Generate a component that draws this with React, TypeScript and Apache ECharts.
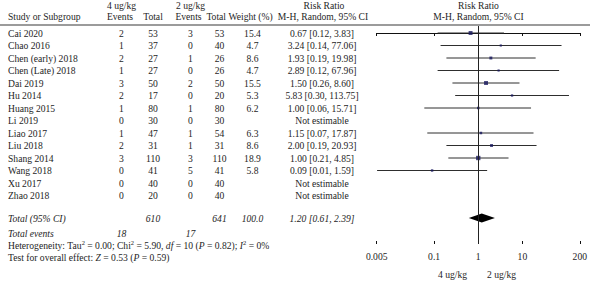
import { useEffect, useRef } from 'react';
import * as echarts from 'echarts';

// ---------- data ----------
const studies = ['Cai 2020', 'Chao 2016', 'Chen (early) 2018', 'Chen (Late) 2018', 'Dai 2019', 'Hu 2014', 'Huang 2015', 'Li 2019', 'Liao 2017', 'Liu 2018', 'Shang 2014', 'Wang 2018', 'Xu 2017', 'Zhao 2018'];
const events4 = [2, 1, 2, 1, 3, 2, 1, 0, 1, 2, 3, 0, 0, 0];
const total4 = [53, 37, 27, 27, 50, 17, 80, 30, 47, 31, 110, 41, 40, 20];
const events2 = [3, 0, 1, 0, 2, 0, 1, 0, 1, 1, 3, 5, 0, 0];
const total2 = [53, 40, 26, 26, 50, 20, 80, 30, 54, 31, 110, 41, 40, 40];
const weights: (number | null)[] = [15.4, 4.7, 8.6, 4.7, 15.5, 5.3, 6.2, null, 6.3, 8.6, 18.9, 5.8, null, null];
const rr: (number | null)[] = [0.67, 3.24, 1.93, 2.89, 1.5, 5.83, 1.0, null, 1.15, 2.0, 1.0, 0.09, null, null];
const ciLow: (number | null)[] = [0.12, 0.14, 0.19, 0.12, 0.26, 0.3, 0.06, null, 0.07, 0.19, 0.21, 0.0051, null, null];
const ciHigh: (number | null)[] = [3.83, 77.06, 19.98, 67.96, 8.6, 113.75, 15.71, null, 17.87, 20.93, 4.85, 1.59, null, null];

const totalN4 = 610;
const totalN2 = 641;
const totalEvents4 = 18;
const totalEvents2 = 17;
const totalWeight = 100.0;
const pooled = [1.2, 0.61, 2.39];

const tickValues = [0.005, 0.1, 1, 10, 200];
const tickLabels = ['0.005', '0.1', '1', '10', '200'];

const hetText = ['Heterogeneity: Tau', '2', ' = 0.00; Chi', '2', ' = 5.90, ', 'df', ' = 10 (', 'P', ' = 0.82); ', 'I', '2', ' = 0%'];
const hetStyles = ['n', 's', 'n', 's', 'n', 'i', 'n', 'i', 'n', 'i', 's', 'n'];
const testText = ['Test for overall effect: ', 'Z', ' = 0.53 (', 'P', ' = 0.59)'];
const testStyles = ['n', 'i', 'n', 'i', 'n'];

// ---------- layout ----------
const W = 590;
const H = 282;
const FONT = '"Liberation Serif", "DejaVu Serif", "Times New Roman", serif';
const FS = 9.6;
const TXT = '#1e1e1e';
const ROW0 = 33;
const STEP = 12.5;
const GRID_TOP = 26;
const AXIS_Y = 244;
const Y_MIN = (GRID_TOP - ROW0) / STEP;
const Y_MAX = (AXIS_Y - ROW0) / STEP;
const TOTAL_ROW = 14.8;
const EVENTS_ROW = 16;
const PLOT_LEFT = 376.7;
const PLOT_RIGHT = 10;

const COL = { name: 8, ev4: 121.5, tot4: 153, ev2: 190.5, tot2: 219.5, w: 252.5, rr: 322 };

const lg = (v: number) => Math.log10(v);
const fmt2 = (v: number) => v.toFixed(2);

function txt(text: string, x: number, y: number, align: string, italic = false) {
  return {
    type: 'text',
    x,
    y,
    silent: true,
    style: {
      text,
      fill: TXT,
      fontSize: FS,
      fontFamily: FONT,
      fontStyle: italic ? 'italic' : 'normal',
      textAlign: align,
      textVerticalAlign: 'middle',
    },
  };
}

function richText(parts: string[], styles: string[], x: number, y: number) {
  const text = parts.map((p, k) => `{${styles[k]}|${p}}`).join('');
  return {
    type: 'text',
    x,
    y,
    silent: true,
    style: {
      text,
      fill: TXT,
      fontSize: FS,
      fontFamily: FONT,
      textAlign: 'left',
      textVerticalAlign: 'middle',
      rich: {
        n: { fontSize: FS, fontFamily: FONT, fill: TXT, lineHeight: 13 },
        i: { fontSize: FS, fontFamily: FONT, fill: TXT, fontStyle: 'italic', lineHeight: 13 },
        s: { fontSize: 6.5, fontFamily: FONT, fill: TXT, lineHeight: 8, verticalAlign: 'top' },
      },
    },
  };
}

export default function App() {
  const ref = useRef<HTMLDivElement>(null);

  useEffect(() => {
    if (!ref.current) return;
    const chart = echarts.init(ref.current, null, { renderer: 'svg', width: W, height: H });

    const studyRows = studies.map((_, i) => [0, i]);
    const ciData = rr
      .map((v, i) => (v == null ? null : [lg(ciLow[i] as number), lg(ciHigh[i] as number), i]))
      .filter((d) => d != null);
    const pointData = rr
      .map((v, i) =>
        v == null
          ? null
          : { value: [lg(v), i], symbolSize: Math.sqrt(weights[i] as number) * 1.0 }
      )
      .filter((d) => d != null);

    const yAxisBase = {
      type: 'value',
      inverse: true,
      min: Y_MIN,
      max: Y_MAX,
      show: false,
    };

    const option: any = {
      animation: false,
      backgroundColor: '#ffffff',
      grid: [
        { left: PLOT_LEFT, right: PLOT_RIGHT, top: GRID_TOP, height: AXIS_Y - GRID_TOP, containLabel: false },
        { left: 0, right: 0, top: GRID_TOP, height: AXIS_Y - GRID_TOP, containLabel: false },
      ],
      xAxis: [
        {
          type: 'value',
          gridIndex: 0,
          min: lg(tickValues[0]),
          max: lg(tickValues[tickValues.length - 1]),
          position: 'bottom',
          splitLine: { show: false },
          axisLine: { show: true, lineStyle: { color: '#111', width: 1 } },
          axisTick: { show: true, length: 3, customValues: tickValues.map(lg), lineStyle: { color: '#111', width: 1 } },
          axisLabel: {
            show: true,
            customValues: tickValues.map(lg),
            margin: 7,
            color: TXT,
            fontSize: FS,
            fontFamily: FONT,
            formatter: (v: number) => {
              let best = 0;
              tickValues.forEach((t, k) => {
                if (Math.abs(lg(t) - v) < Math.abs(lg(tickValues[best]) - v)) best = k;
              });
              return tickLabels[best];
            },
          },
        },
        {
          type: 'value',
          gridIndex: 0,
          min: lg(tickValues[0]),
          max: lg(tickValues[tickValues.length - 1]),
          position: 'bottom',
          offset: 0,
          splitLine: { show: false },
          axisLine: { show: false },
          axisLabel: { show: false },
          axisTick: { show: true, inside: true, length: 3, customValues: tickValues.map(lg), lineStyle: { color: '#111', width: 1 } },
        },
        { type: 'value', gridIndex: 1, min: 0, max: W, show: false },
      ],
      yAxis: [
        { ...yAxisBase, gridIndex: 0 },
        { ...yAxisBase, gridIndex: 1 },
      ],
      series: [
        // confidence interval lines
        {
          type: 'custom',
          xAxisIndex: 0,
          yAxisIndex: 0,
          z: 2,
          silent: true,
          data: ciData,
          renderItem: (params: any, api: any) => {
            const p1 = api.coord([api.value(0), api.value(2)]);
            const p2 = api.coord([api.value(1), api.value(2)]);
            return {
              type: 'line',
              shape: { x1: p1[0], y1: p1[1], x2: p2[0], y2: p2[1] },
              style: { stroke: '#2e2e2e', lineWidth: 1 },
            };
          },
        },
        // point estimates
        {
          type: 'scatter',
          xAxisIndex: 0,
          yAxisIndex: 0,
          z: 3,
          silent: true,
          symbol: 'rect',
          itemStyle: { color: '#16165c' },
          data: pointData,
          markLine: {
            silent: true,
            symbol: 'none',
            label: { show: false },
            lineStyle: { color: '#222', width: 1, type: 'solid' },
            data: [{ xAxis: lg(1) }],
          },
        },
        // pooled diamond
        {
          type: 'custom',
          xAxisIndex: 0,
          yAxisIndex: 0,
          z: 4,
          silent: true,
          data: [[lg(pooled[0]), lg(pooled[1]), lg(pooled[2]), TOTAL_ROW]],
          renderItem: (params: any, api: any) => {
            const row = api.value(3);
            const c = api.coord([api.value(0), row]);
            const l = api.coord([api.value(1), row]);
            const r = api.coord([api.value(2), row]);
            const h = 4.6;
            return {
              type: 'polygon',
              shape: { points: [[l[0], c[1]], [c[0], c[1] - h], [r[0], c[1]], [c[0], c[1] + h]] },
              style: { fill: '#000' },
            };
          },
        },
        // study table rows
        {
          type: 'custom',
          xAxisIndex: 2,
          yAxisIndex: 1,
          silent: true,
          clip: false,
          data: studyRows,
          renderItem: (params: any, api: any) => {
            const i = params.dataIndex;
            const y = api.coord([0, api.value(1)])[1];
            const cx = (v: number) => api.coord([v, 0])[0];
            const w = weights[i];
            const r = rr[i];
            const children: any[] = [
              txt(studies[i], cx(COL.name), y, 'left'),
              txt(String(events4[i]), cx(COL.ev4), y, 'center'),
              txt(String(total4[i]), cx(COL.tot4), y, 'center'),
              txt(String(events2[i]), cx(COL.ev2), y, 'center'),
              txt(String(total2[i]), cx(COL.tot2), y, 'center'),
            ];
            if (w != null) children.push(txt(w.toFixed(1), cx(COL.w), y, 'center'));
            children.push(
              txt(
                r == null ? 'Not estimable' : `${fmt2(r)} [${fmt2(ciLow[i] as number)}, ${fmt2(ciHigh[i] as number)}]`,
                cx(COL.rr),
                y,
                'center'
              )
            );
            return { type: 'group', children };
          },
        },
        // totals
        {
          type: 'custom',
          xAxisIndex: 2,
          yAxisIndex: 1,
          silent: true,
          clip: false,
          data: [[0, TOTAL_ROW], [0, EVENTS_ROW]],
          renderItem: (params: any, api: any) => {
            const y = api.coord([0, api.value(1)])[1];
            const cx = (v: number) => api.coord([v, 0])[0];
            if (params.dataIndex === 0) {
              return {
                type: 'group',
                children: [
                  txt('Total (95% CI)', cx(COL.name), y, 'left', true),
                  txt(String(totalN4), cx(COL.tot4), y, 'center', true),
                  txt(String(totalN2), cx(COL.tot2), y, 'center', true),
                  txt(totalWeight.toFixed(1), cx(COL.w), y, 'center', true),
                  txt(`${fmt2(pooled[0])} [${fmt2(pooled[1])}, ${fmt2(pooled[2])}]`, cx(COL.rr), y, 'center', true),
                ],
              };
            }
            return {
              type: 'group',
              children: [
                txt('Total events', cx(COL.name), y, 'left', true),
                txt(String(totalEvents4), cx(COL.ev4), y, 'center', true),
                txt(String(totalEvents2), cx(COL.ev2), y, 'center', true),
              ],
            };
          },
        },
      ],
      graphic: [
        { type: 'line', silent: true, shape: { x1: 0, y1: 25, x2: W, y2: 25 }, style: { stroke: '#7a7a7a', lineWidth: 1.5 } },
        txt('4 ug/kg', 107, 5.5, 'left'),
        txt('2 ug/kg', 176, 5.5, 'left'),
        txt('Risk Ratio', 324, 5.5, 'center'),
        txt('Risk Ratio', 478.5, 5.5, 'center'),
        txt('Study or Subgroup', 8, 16.5, 'left'),
        txt('Events', 120, 16.5, 'center'),
        txt('Total', 153, 16.5, 'center'),
        txt('Events', 188.5, 16.5, 'center'),
        txt('Total', 226, 16.5, 'right'),
        txt('Weight (%)', 228.5, 16.5, 'left'),
        txt('M-H, Random, 95% CI', 323, 16.5, 'center'),
        txt('M-H, Random, 95% CI', 478.5, 16.5, 'center'),
        richText(hetText, hetStyles, 8, 245),
        richText(testText, testStyles, 8, 257),
        txt('4 ug/kg', 467, 274, 'right'),
        txt('2 ug/kg', 487, 274, 'left'),
      ],
    };

    chart.setOption(option);
    return () => chart.dispose();
  }, []);

  return <div ref={ref} style={{ position: 'fixed', left: 0, top: 0, width: W, height: H, background: '#fff' }} />;
}
